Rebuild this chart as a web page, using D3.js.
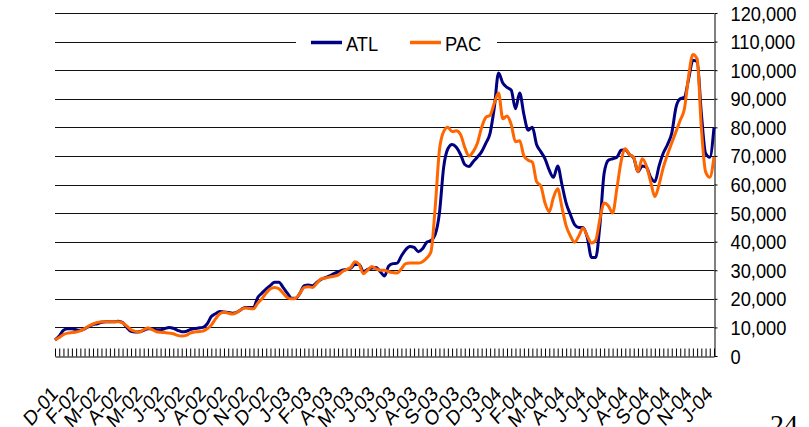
<!DOCTYPE html>
<html>
<head>
<meta charset="utf-8">
<script src="https://cdn.jsdelivr.net/npm/d3@7"></script>
<style>
  body { margin: 0; background: #fff; }
  svg { display: block; font-family: "Liberation Sans", Arial, sans-serif; }
</style>
</head>
<body>
<svg class="chart" width="809" height="427"></svg>
<script>
// weekly values, in thousands
const atl = [
  5.6, 7, 9, 9.5, 9.5, 9.2, 9, 9.5, 10.3, 11,
  11.3, 11.8, 12, 12, 12, 12.2, 11.7, 10, 8.6, 8.4,
  8.5, 9, 9.5, 9.5, 9.2, 9.2, 9.6, 10, 9.7, 9,
  8.5, 8.6, 9.2, 9.6, 9.8, 10, 11.2, 13.8, 14.8, 15.6,
  15.4, 15.2, 15, 15.3, 16.2, 17, 17, 17, 20.5, 22,
  23.5, 24.7, 25.8, 25.8, 24, 22, 20.2, 20.2, 22, 24.6,
  24.8, 24.6, 25.8, 26.8, 27.4, 28, 28.8, 29.4, 30, 30.3,
  30.7, 32, 32, 29.5, 30.3, 30.8, 31, 29.5, 28, 31.5,
  32.3, 32.5, 35, 37.2, 38.3, 38, 36.5, 37.5, 39.8, 40.4,
  42.5, 50, 66, 72.5, 74, 73, 70.5, 67, 66.3, 68,
  69.6, 71.5, 74.5, 78, 87, 99, 95.5, 94, 93, 86.5,
  92, 84.5, 79, 80, 74, 71.5, 69, 65, 62.5, 66.5,
  60, 53.5, 49.5, 46, 45, 45, 41.5, 34.5, 34.5, 46,
  64, 68.5, 69, 69.5, 72, 72.2, 70.5, 69.3, 64.5, 66.5,
  66, 62.5, 61, 66.5, 71, 74, 78, 87, 90, 90.5,
  97, 103.5, 103, 85, 71, 69.5, 80
];
const pac = [
  5.6, 6.5, 7.5, 8, 8.2, 8.4, 8.8, 9.6, 10.5, 11.2,
  11.7, 12, 12, 12, 12, 12, 11.6, 10.5, 9.2, 8.6,
  8.4, 9.2, 9.8, 9.2, 8.5, 8.3, 8.2, 8, 7.8, 7.2,
  7, 7.2, 8, 8.4, 8.5, 8.7, 9.5, 10.8, 13, 14.8,
  15.3, 15, 14.7, 15.2, 16.2, 16.8, 16.6, 16.5, 18.5, 20,
  22, 23.5, 24, 23.5, 22, 20.5, 20, 20.2, 22, 24,
  24.2, 24, 25.5, 27, 27.3, 27.6, 27.9, 28.3, 29.5, 30.2,
  31, 33, 32, 28.8, 30, 31.3, 30.5, 30, 30, 29.5,
  29.2, 29, 30.5, 32.3, 32.5, 32.5, 32.5, 33, 34.3, 36.5,
  52, 72, 78.5, 80, 78.5, 78.8, 77.5, 73, 70, 71.5,
  74.5, 80, 83.5, 84.2, 88.5, 92, 83, 84, 81, 75,
  75.3, 70, 68.5, 67.8, 61, 59.5, 53.5, 50.5, 55.5, 58.5,
  52, 45.5, 42, 39.8, 42, 44.8, 42, 39.5, 40.5, 48,
  53.5, 52.5, 50, 58.5, 68, 72.5, 70.5, 69.5, 64.5, 69,
  66.5, 61, 55.8, 60, 66, 70.5, 74.5, 78.5, 82.5, 86.5,
  98, 105.5, 104, 80, 64.5, 62.5, 69.6
];
// one label every 5 weeks
const xLabels = [
  "D-01", "F-02", "M-02", "A-02", "M-02", "J-02", "J-02", "A-02", "O-02", "N-02",
  "D-02", "J-03", "F-03", "A-03", "M-03", "J-03", "J-03", "A-03", "S-03", "O-03",
  "D-03", "J-04", "F-04", "M-04", "A-04", "J-04", "J-04", "A-04", "S-04", "O-04",
  "N-04", "J-04"
];
const yTicks = [0, 10000, 20000, 30000, 40000, 50000, 60000, 70000, 80000, 90000, 100000, 110000, 120000];

const margin = { top: 13, right: 95, bottom: 71, left: 55 };
const width = 809 - margin.left - margin.right;
const height = 427 - margin.top - margin.bottom;
const squeeze = "scale(0.87,1)"; // text in the picture is a bit narrow

const svg = d3
  .select(".chart")
  .append("g")
  .attr("transform", `translate(${margin.left},${margin.top})`);

const x = d3.scalePoint().domain(d3.range(atl.length)).range([0, width]);
const y = d3.scaleLinear().domain([0, 120000]).range([height, 0]);

// horizontal grid
svg
  .selectAll(".grid-line")
  .data(yTicks.filter((d) => d > 0))
  .join("line")
  .attr("class", "grid-line")
  .attr("x1", 0)
  .attr("x2", width)
  .attr("y1", (d) => Math.round(y(d)) + 0.5)
  .attr("y2", (d) => Math.round(y(d)) + 0.5)
  .attr("stroke", "#111")
  .attr("stroke-width", 1);

// bottom axis, ticks pointing inside
const xAxis = svg
  .append("g")
  .attr("transform", `translate(0,${Math.round(height) + 0.5})`)
  .call(d3.axisBottom(x).tickSizeInner(-8).tickSizeOuter(0).tickFormat(""));
xAxis.select(".domain").attr("stroke", "#000");
xAxis.selectAll(".tick line").attr("stroke", "#000");

xLabels.forEach((lab, k) => {
  const xi = x(k * 5);
  svg
    .append("text")
    .attr("transform", `translate(${xi + 4},${height + 39}) ${squeeze} rotate(-45)`)
    .attr("text-anchor", "end")
    .attr("font-size", 21)
    .attr("fill", "#000")
    .text(lab);
});

// right axis
const yAxis = svg
  .append("g")
  .attr("transform", `translate(${width + 0.5},0)`)
  .call(
    d3
      .axisRight(y)
      .tickValues(yTicks)
      .tickSizeInner(3)
      .tickSizeOuter(0)
      .tickFormat(d3.format(","))
  );
yAxis.select(".domain").attr("stroke", "#000");
yAxis.selectAll(".tick line").attr("stroke", "#000");
yAxis
  .selectAll(".tick text")
  .attr("x", null)
  .attr("dy", null)
  .attr("transform", `translate(16,7) ${squeeze}`)
  .attr("font-size", 21)
  .attr("font-family", "Liberation Sans, Arial, sans-serif")
  .attr("fill", "#000");

// series
const lines = [
  { key: "ATL", color: "#000080", values: atl },
  { key: "PAC", color: "#FF6600", values: pac },
];

const lineGroup = svg.append("g").attr("class", "lines");
lines.forEach(({ key, color, values }) => {
  lineGroup
    .append("path")
    .datum(values)
    .attr("class", `line ${key}-line`)
    .attr(
      "d",
      d3
        .line()
        .x((d, i) => x(i))
        .y((d) => y(d * 1000))
        .curve(d3.curveMonotoneX)
    )
    .attr("fill", "none")
    .attr("stroke", color)
    .attr("stroke-width", 3)
    .attr("stroke-linejoin", "round");
});

// legend sits on the 110,000 grid line
const legend = svg.append("g").attr("transform", "translate(241,17)");
legend.append("rect").attr("width", 201).attr("height", 26).attr("fill", "#fff");
lines.forEach(({ key, color }, i) => {
  const g = legend.append("g").attr("transform", `translate(${15 + i * 99},12.5)`);
  g.append("line")
    .attr("x1", 0)
    .attr("x2", 31)
    .attr("stroke", color)
    .attr("stroke-width", 3.5);
  g.append("text")
    .attr("transform", `translate(35,8) ${squeeze}`)
    .attr("font-size", 21)
    .attr("fill", "#000")
    .text(key);
});

// page number at the bottom corner (cut by the edge, as in the source)
d3.select(".chart")
  .append("text")
  .attr("x", 770)
  .attr("y", 434)
  .attr("font-family", "Liberation Serif, Times New Roman, serif")
  .attr("font-size", 28)
  .attr("fill", "#000")
  .text("24");
</script>
</body>
</html>
